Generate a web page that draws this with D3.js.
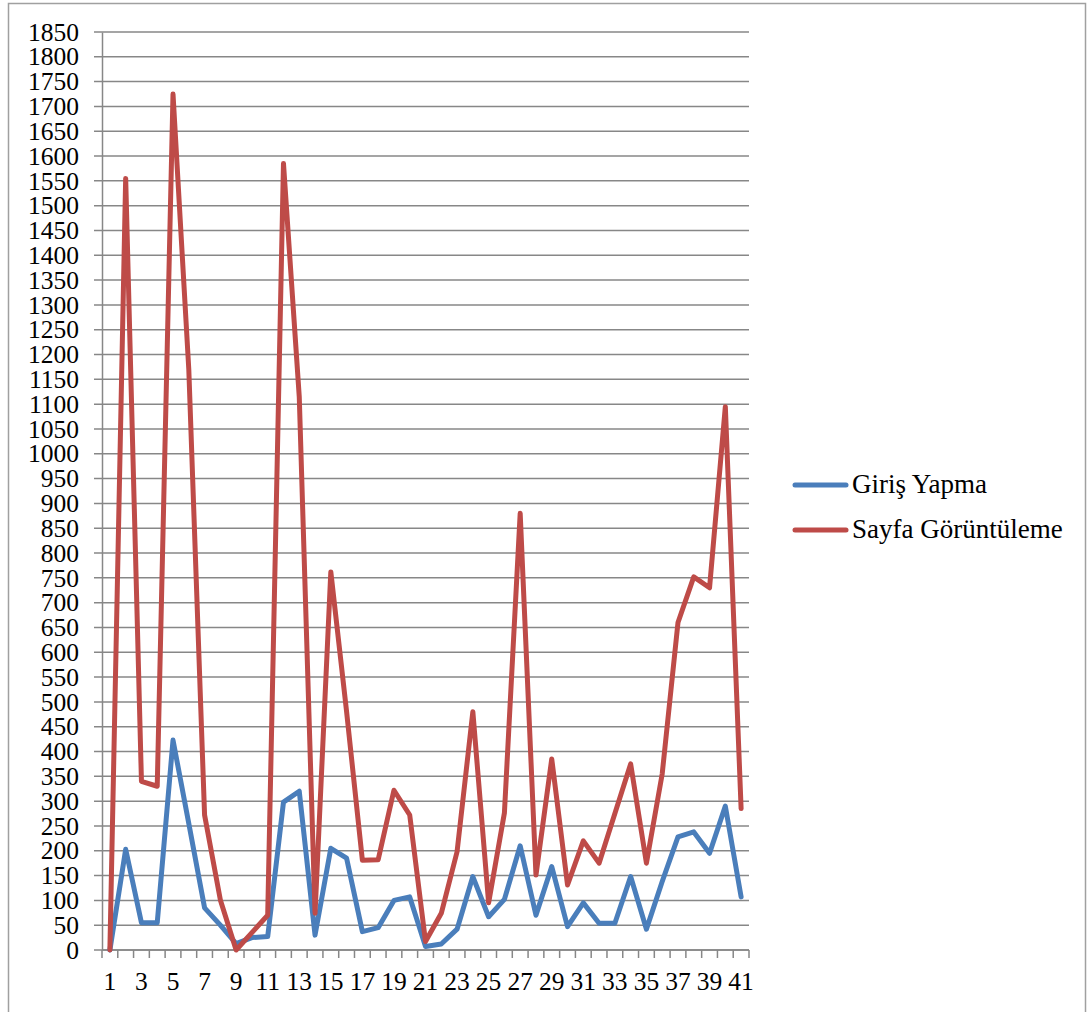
<!DOCTYPE html>
<html><head><meta charset="utf-8">
<script src="https://cdn.jsdelivr.net/npm/d3@7"></script>
</head><body style="margin:0">
<script>
const categories = d3.range(1, 42).map(String);
const girisYapma = [0,203,55,55,423,255,85,50,13,25,27,298,320,30,205,185,37,45,100,107,7,12,42,148,67,102,210,70,168,47,95,54,54,148,42,138,228,238,195,290,107];
const sayfaGoruntuleme = [0,1555,340,330,1725,1170,272,101,0,35,70,1585,1115,74,762,480,181,182,322,272,17,74,198,480,95,276,880,151,385,131,220,175,275,375,175,355,660,752,730,1095,285];
const yTicks = d3.range(0, 1851, 50);
const seriesNames = ["Giriş Yapma", "Sayfa Görüntüleme"];
const colors = ["#4a7ebb", "#be4b48"];

const W = 1090, H = 1012;
const FONT = '"Liberation Serif"';
const svg = d3.select("body").append("svg").attr("width", W).attr("height", H).style("display", "block");
svg.append("rect").attr("x", 8.5).attr("y", 3.5).attr("width", 1077).attr("height", 1030)
  .attr("fill", "none").attr("stroke", "#a0a0a0").attr("stroke-width", 1.5);

const x = d3.scaleBand().domain(categories).range([102, 749]);
const y = d3.scaleLinear().domain([0, 1850]).range([950, 32]);

// gridlines
svg.append("g").selectAll("line").data(yTicks).join("line")
  .attr("x1", 94).attr("x2", 749)
  .attr("y1", d => y(d)).attr("y2", d => y(d))
  .attr("stroke", "#878787").attr("stroke-width", 1.5);

// y axis
const yAxis = d3.axisLeft(y).tickValues(yTicks).tickSize(0).tickPadding(23).tickFormat(d3.format("d"));
const gy = svg.append("g").attr("transform", "translate(102,0)").call(yAxis);
gy.select(".domain").attr("stroke", "#878787").attr("stroke-width", 1.5);
gy.selectAll("text").style("font-family", FONT).style("font-size", "25.5px").attr("fill", "#000");

// x axis
const gx = svg.append("g").attr("transform", "translate(0,950)");
gx.append("line").attr("x1", 102).attr("x2", 749).attr("y1", 0).attr("y2", 0)
  .attr("stroke", "#878787").attr("stroke-width", 1.5);
const boundaries = categories.map(c => x(c)).concat([x.range()[1]]);
gx.selectAll("line.tk").data(boundaries).join("line").attr("class", "tk")
  .attr("x1", d => d).attr("x2", d => d).attr("y1", 0).attr("y2", 8)
  .attr("stroke", "#878787").attr("stroke-width", 1.5);
gx.selectAll("text").data(categories.filter((c, i) => i % 2 === 0)).join("text")
  .attr("x", d => x(d) + x.bandwidth() / 2).attr("y", 40)
  .attr("text-anchor", "middle").style("font-family", FONT).style("font-size", "25.5px")
  .attr("fill", "#000").text(d => d);

// lines
const line = d3.line().x((d, i) => x(categories[i]) + x.bandwidth() / 2).y(d => y(d));
[girisYapma, sayfaGoruntuleme].forEach((s, k) => {
  svg.append("path").datum(s).attr("d", line).attr("fill", "none")
    .attr("stroke", colors[k]).attr("stroke-width", 5)
    .attr("stroke-linejoin", "round").attr("stroke-linecap", "round");
});

// legend
const lg = svg.append("g");
seriesNames.forEach((n, k) => {
  const yy = 485 + k * 45;
  lg.append("line").attr("x1", 795).attr("x2", 846).attr("y1", yy).attr("y2", yy)
    .attr("stroke", colors[k]).attr("stroke-width", 5).attr("stroke-linecap", "round");
  lg.append("text").attr("x", 852).attr("y", yy + 8).style("font-family", FONT)
    .style("font-size", "27px").attr("fill", "#000").text(n);
});
</script>
</body></html>
